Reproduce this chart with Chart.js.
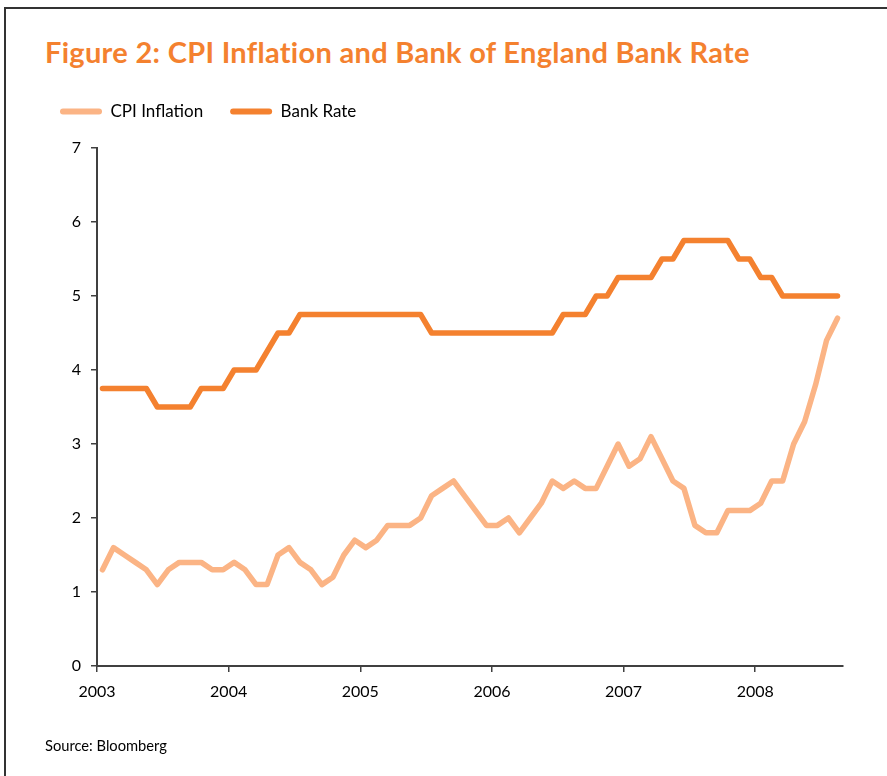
<!DOCTYPE html>
<html>
<head>
<meta charset="utf-8">
<script src="https://cdn.jsdelivr.net/npm/chart.js@4"></script>
<style>
  html, body { margin: 0; padding: 0; background: #fff; }
  #page { position: relative; width: 887px; height: 776px; overflow: hidden; font-family: Lato, "Open Sans", sans-serif; }
  #frame { position: absolute; left: 4px; top: 7px; right: -10px; bottom: -10px; border-top: 2px solid #333; border-left: 2px solid #333; }
  #title { position: absolute; left: 45px; top: 37px; line-height: 29px; font-size: 29px; letter-spacing: 0.3px; font-weight: bold; color: #F4812F; white-space: nowrap; }
  #source { position: absolute; left: 45px; top: 737px; line-height: 16px; font-size: 14.7px; color: #000; white-space: nowrap; }
  #wrap { position: absolute; left: 0; top: 0; width: 887px; height: 776px; }
</style>
</head>
<body>
<div id="page">
  <div id="frame"></div>
  <div id="title">Figure 2: CPI Inflation and Bank of England Bank Rate</div>
  <div id="wrap"><canvas id="chart"></canvas></div>
  <div id="source">Source: Bloomberg</div>
</div>
<script>
(() => {
  // monthly, Jan 2003 .. Aug 2008
  const startYear = 2003;
  const cpiInflation = [
    1.3, 1.6, 1.5, 1.4, 1.3, 1.1, 1.3, 1.4, 1.4, 1.4, 1.3, 1.3,
    1.4, 1.3, 1.1, 1.1, 1.5, 1.6, 1.4, 1.3, 1.1, 1.2, 1.5, 1.7,
    1.6, 1.7, 1.9, 1.9, 1.9, 2.0, 2.3, 2.4, 2.5, 2.3, 2.1, 1.9,
    1.9, 2.0, 1.8, 2.0, 2.2, 2.5, 2.4, 2.5, 2.4, 2.4, 2.7, 3.0,
    2.7, 2.8, 3.1, 2.8, 2.5, 2.4, 1.9, 1.8, 1.8, 2.1, 2.1, 2.1,
    2.2, 2.5, 2.5, 3.0, 3.3, 3.8, 4.4, 4.7
  ];
  const bankRate = [
    3.75, 3.75, 3.75, 3.75, 3.75, 3.5, 3.5, 3.5, 3.5, 3.75, 3.75, 3.75,
    4.0, 4.0, 4.0, 4.25, 4.5, 4.5, 4.75, 4.75, 4.75, 4.75, 4.75, 4.75,
    4.75, 4.75, 4.75, 4.75, 4.75, 4.75, 4.5, 4.5, 4.5, 4.5, 4.5, 4.5,
    4.5, 4.5, 4.5, 4.5, 4.5, 4.5, 4.75, 4.75, 4.75, 5.0, 5.0, 5.25,
    5.25, 5.25, 5.25, 5.5, 5.5, 5.75, 5.75, 5.75, 5.75, 5.75, 5.5, 5.5,
    5.25, 5.25, 5.0, 5.0, 5.0, 5.0, 5.0, 5.0
  ];
  const yTicks = [0, 1, 2, 3, 4, 5, 6, 7];
  const monthCount = 68;

  const cpiColor = '#FBB485';
  const bankColor = '#F4812F';
  const axisColor = '#404040';
  const font = { family: 'Lato, "Open Sans", sans-serif', size: 16 };
  const legendFont = { family: 'Lato, "Open Sans", sans-serif', size: 17 };

  // point sits in the middle of its month
  const toPoints = arr => arr.map((v, i) => ({ x: i + 0.5, y: v }));

  // extra room between legend and plot
  const legendGap = {
    id: 'legendGap',
    afterInit(chart) {
      const fit = chart.legend.fit;
      chart.legend.fit = function () { fit.call(this); this.height += 18; };
    }
  };

  new Chart(document.getElementById('chart'), {
    type: 'line',
    data: {
      datasets: [
        { label: 'CPI Inflation', data: toPoints(cpiInflation), borderColor: cpiColor, backgroundColor: cpiColor, borderWidth: 5.5 },
        { label: 'Bank Rate', data: toPoints(bankRate), borderColor: bankColor, backgroundColor: bankColor, borderWidth: 5.5 }
      ]
    },
    plugins: [legendGap],
    options: {
      responsive: true,
      maintainAspectRatio: false,
      animation: false,
      layout: { padding: { left: 33, right: 44, top: 76, bottom: 70 } },
      elements: {
        point: { radius: 0 },
        line: { tension: 0, borderJoinStyle: 'round', borderCapStyle: 'round' }
      },
      plugins: {
        tooltip: { enabled: false },
        legend: {
          position: 'top',
          align: 'start',
          labels: {
            font: legendFont, color: '#000', padding: 27, boxWidth: 42, boxHeight: 6,
            useBorderRadius: true, borderRadius: 3,
            generateLabels: chart => Chart.defaults.plugins.legend.labels.generateLabels(chart)
              .map(l => ({ ...l, lineWidth: 0, fillStyle: l.strokeStyle }))
          }
        }
      },
      scales: {
        x: {
          type: 'linear', min: 0, max: monthCount,
          afterFit: s => { s.height = 40; },
          afterBuildTicks: s => { s.ticks = s.ticks.filter(t => t.value % 12 === 0); },
          ticks: { stepSize: 12, font, color: '#000', padding: 10, maxRotation: 0, callback: v => String(startYear + v / 12) },
          grid: { drawOnChartArea: false, drawTicks: true, tickLength: 6, color: axisColor, lineWidth: 1.5 },
          border: { display: true, color: axisColor, width: 2 }
        },
        y: {
          min: 0, max: 7,
          afterFit: s => { s.width = 64; },
          afterBuildTicks: s => { s.ticks = yTicks.map(v => ({ value: v })); },
          ticks: { font, color: '#000', padding: 10 },
          grid: { drawOnChartArea: false, drawTicks: true, tickLength: 6, color: axisColor, lineWidth: 1.5 },
          border: { display: true, color: axisColor, width: 2 }
        }
      }
    }
  });
})();
</script>
</body>
</html>
